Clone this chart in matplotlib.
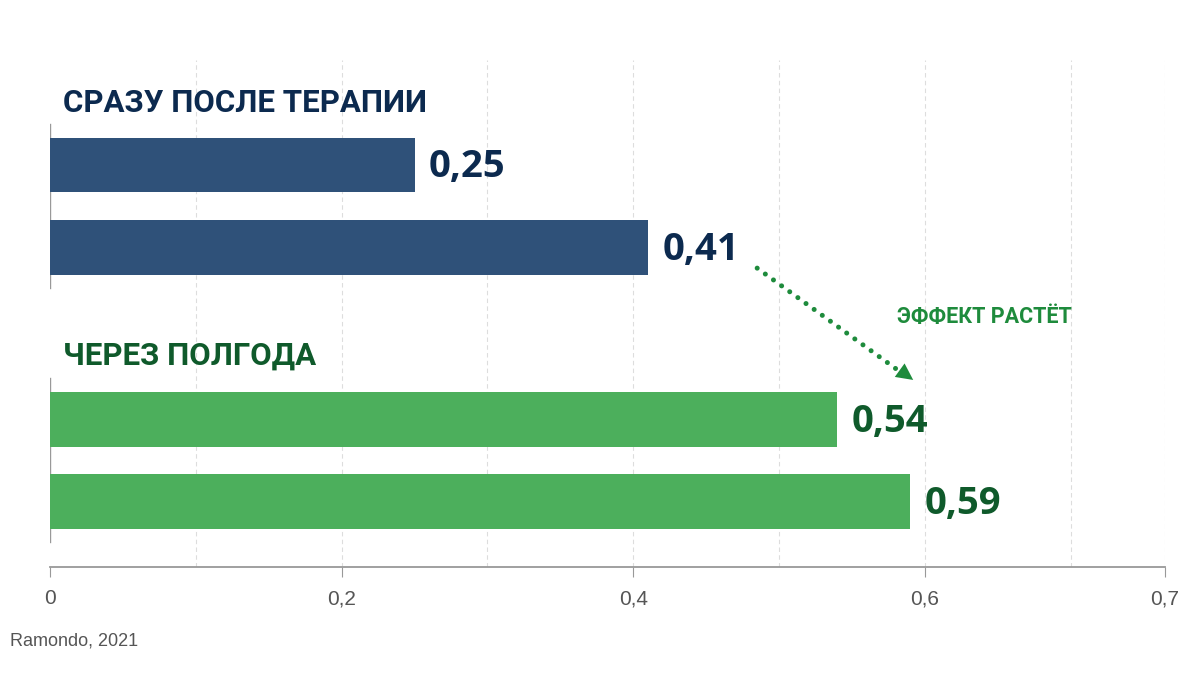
import matplotlib
matplotlib.use("Agg")
import matplotlib.pyplot as plt

# ---- data ----
group_titles = ["СРАЗУ ПОСЛЕ ТЕРАПИИ", "ЧЕРЕЗ ПОЛГОДА"]
values_after = [0.25, 0.41]
values_halfyear = [0.54, 0.59]
value_labels_after = ["0,25", "0,41"]
value_labels_halfyear = ["0,54", "0,59"]
tick_values = [0, 0.2, 0.4, 0.6]
tick_labels = ["0", "0,2", "0,4", "0,6", "0,7"]
grid_values = [0.1, 0.2, 0.3, 0.4, 0.5, 0.6, 0.7]
annotation_text = "ЭФФЕКТ РАСТЁТ"
source_text = "Ramondo, 2021"

# ---- style ----
BLUE = "#2F5179"
GREEN = "#4CAF5C"
NAVY = "#0C2A4F"
DKGREEN = "#0F5A2B"
ANNGREEN = "#1E8B3C"
BOLD = ["Roboto", "DejaVu Sans"]
VALFONT = ["Open Sans", "DejaVu Sans"]
NARROW = ["Liberation Sans Narrow", "Liberation Sans", "DejaVu Sans"]

W, H = 1200, 675
fig = plt.figure(figsize=(12, 6.75), dpi=100)
left_px, right_px, top_px, bottom_px = 50, 1165, 60, 567
ax = fig.add_axes([left_px / W, 1 - bottom_px / H,
                   (right_px - left_px) / W, (bottom_px - top_px) / H])

xmax = 0.7647
ax.set_xlim(0, xmax)
ax.set_ylim(4.90, -1.28)

pos_after = [0, 1]
pos_half = [3.1, 4.1]
bh = 0.67

ax.barh(pos_after, values_after, height=bh, color=BLUE, zorder=3)
ax.barh(pos_half, values_halfyear, height=bh, color=GREEN, zorder=3)

for p, v, t in zip(pos_after, values_after, value_labels_after):
    ax.text(v + 0.010, p + 0.03, t, va="center", ha="left", fontsize=27.5,
            fontweight="bold", color=NAVY, family=VALFONT, zorder=4)
for p, v, t in zip(pos_half, values_halfyear, value_labels_halfyear):
    ax.text(v + 0.010, p + 0.03, t, va="center", ha="left", fontsize=27.5,
            fontweight="bold", color=DKGREEN, family=VALFONT, zorder=4)

# group titles
ax.text(0.009, pos_after[0] - 0.76, group_titles[0], va="center", ha="left",
        fontsize=22.5, fontweight="bold", color=NAVY, family=BOLD)
ax.text(0.009, pos_half[0] - 0.78, group_titles[1], va="center", ha="left",
        fontsize=22.5, fontweight="bold", color=DKGREEN, family=BOLD)

# group side lines
ax.plot([0, 0], [pos_after[0] - 0.5, pos_after[-1] + 0.5], color="#999999", lw=1, zorder=2)
ax.plot([0, 0], [pos_half[0] - 0.5, pos_half[-1] + 0.5], color="#999999", lw=1, zorder=2)

# grid
for g in grid_values + [xmax]:
    ax.axvline(g, color="#dddddd", lw=0.8, ls=(0, (4, 3)), zorder=1)

# axis
for s in ["top", "right", "left"]:
    ax.spines[s].set_visible(False)
ax.spines["bottom"].set_color("#999999")
ax.spines["bottom"].set_linewidth(1.3)
ax.set_yticks([])
ax.set_xticks(tick_values + [xmax])
ax.set_xticklabels(tick_labels, fontsize=15, color="#555555", family=NARROW)
ax.tick_params(axis="x", length=7, width=0.8, color="#999999", pad=9)

# annotation arrow
x0, y0 = 0.485, 1.257
x1, y1 = 0.583, 2.52
ax.plot([x0, x1], [y0, y1], color=ANNGREEN, lw=3.6, ls=(0, (0.01, 2.0)),
        dash_capstyle="round", zorder=4)
ax.annotate("", xy=(0.592, 2.62), xytext=(0.578, 2.44),
            arrowprops=dict(arrowstyle="-|>,head_width=0.6,head_length=1.2",
                            color=ANNGREEN, lw=0, shrinkA=0, shrinkB=0), zorder=4)
ax.text(0.6406, 1.85, annotation_text, va="center", ha="center", fontsize=15.5,
        fontweight="bold", color=ANNGREEN, family=BOLD)

fig.text(10 / W, 1 - 641 / H, source_text, va="center", ha="left",
         fontsize=13, color="#555555", family=NARROW)

fig.savefig("out.png", dpi=100, facecolor="white")
